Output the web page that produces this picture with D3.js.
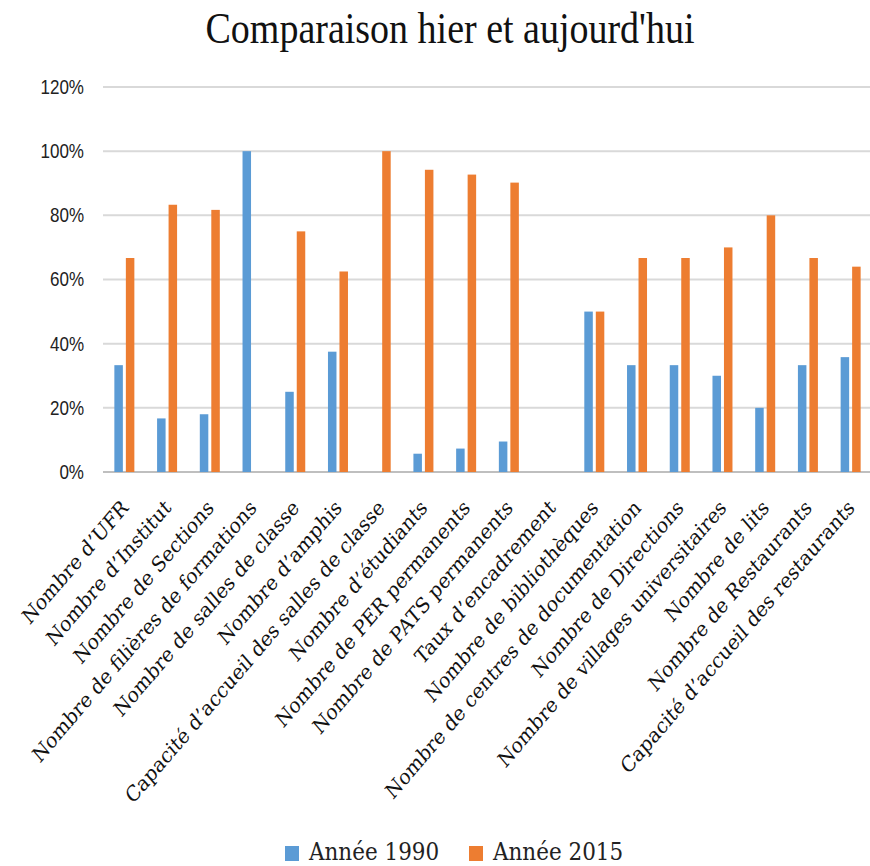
<!DOCTYPE html>
<html lang="fr">
<head>
    <meta charset="UTF-8">
    <title>Comparaison hier et aujourd'hui</title>
    <script src="https://d3js.org/d3.v7.min.js"></script>
    <style>
        body { margin: 0; background: #fff; }
        .tick-label { font-family: "Liberation Sans", Arial, sans-serif; font-size: 17px; fill: #222; }
        .cat-label { font-family: "DejaVu Serif", serif; font-size: 18.3px; fill: #111; }
        .legend-label { font-family: "DejaVu Serif", serif; font-size: 21.5px; fill: #222; }
    </style>
</head>
<body>
    <svg width="870" height="866"></svg>
    <script>
        // données (parts en %)
        var categories = [
            "Nombre d’UFR", "Nombre d’Institut", "Nombre de Sections",
            "Nombre de filières de formations", "Nombre de salles de classe",
            "Nombre d’amphis", "Capacité d’accueil des salles de classe",
            "Nombre d’étudiants", "Nombre de PER permanents", "Nombre de PATS permanents",
            "Taux d’encadrement", "Nombre de bibliothèques",
            "Nombre de centres de documentation", "Nombre de Directions",
            "Nombre de villages universitaires", "Nombre de lits",
            "Nombre de Restaurants", "Capacité d’accueil des  restaurants"
        ];
        var seriesNames = ["Année 1990", "Année 2015"];
        var values1990 = [33.3, 16.7, 18.0, 100, 25.0, 37.5, 0, 5.7, 7.3, 9.5, 0, 50, 33.3, 33.3, 30.0, 20.0, 33.3, 35.8];
        var values2015 = [66.7, 83.3, 81.7, 0, 75.0, 62.5, 100, 94.2, 92.7, 90.2, 0, 50, 66.7, 66.7, 70.0, 80.0, 66.7, 64.0];
        var yTicks = [0, 20, 40, 60, 80, 100, 120];
        var colors = ["#5B9BD5", "#ED7D31"];

        var svg = d3.select("svg");
        var stretch = 1.17; // le rendu original est étiré verticalement

        var x = d3.scaleBand().domain(categories).range([103, 872]);
        var x1 = d3.scaleBand().domain(seriesNames)
            .range([x.bandwidth() / 2 - 10, x.bandwidth() / 2 + 10])
            .paddingInner(0.26);
        var y = d3.scaleLinear().domain([0, 120]).range([472, 87]);

        // titre
        svg.append("text")
            .attr("transform", "translate(450,43) scale(1," + stretch + ")")
            .attr("text-anchor", "middle")
            .style("font-family", "'Liberation Serif', serif")
            .style("font-size", "38px")
            .style("fill", "#111")
            .text("Comparaison hier et aujourd'hui");

        // grille
        svg.append("g").selectAll("line")
            .data(yTicks)
            .enter()
            .append("line")
            .attr("x1", 103)
            .attr("x2", 870)
            .attr("y1", function(d) { return y(d); })
            .attr("y2", function(d) { return y(d); })
            .attr("stroke", function(d) { return d === 0 ? "#bfbfbf" : "#d9d9d9"; })
            .attr("stroke-width", 2);

        svg.append("g").selectAll("text")
            .data(yTicks)
            .enter()
            .append("text")
            .attr("class", "tick-label")
            .attr("text-anchor", "end")
            .attr("transform", function(d) { return "translate(84," + y(d) + ") scale(1," + stretch + ")"; })
            .attr("dy", "0.35em")
            .text(function(d) { return d + "%"; });

        // barres
        var data = categories.map(function(c, i) {
            return {cat: c, vals: [values1990[i], values2015[i]]};
        });

        var groups = svg.append("g").selectAll("g")
            .data(data)
            .enter()
            .append("g")
            .attr("transform", function(d) { return "translate(" + x(d.cat) + ",0)"; });

        groups.selectAll("rect")
            .data(function(d) { return d.vals.map(function(v, j) { return {s: seriesNames[j], v: v, j: j}; }); })
            .enter()
            .filter(function(d) { return d.v > 0; })
            .append("rect")
            .attr("x", function(d) { return x1(d.s); })
            .attr("width", x1.bandwidth())
            .attr("y", function(d) { return y(d.v); })
            .attr("height", function(d) { return y(0) - y(d.v); })
            .attr("fill", function(d) { return colors[d.j]; });

        // étiquettes des catégories
        svg.append("g").selectAll("text")
            .data(categories)
            .enter()
            .append("text")
            .attr("class", "cat-label")
            .attr("text-anchor", "end")
            .attr("transform", function(d) {
                return "translate(" + (x(d) + x.bandwidth() / 2 + 5) + ",509) scale(1," + stretch + ") rotate(-45)";
            })
            .text(function(d) { return d; });

        // légende
        var legend = svg.append("g").selectAll("g")
            .data(seriesNames)
            .enter()
            .append("g")
            .attr("transform", function(d, i) { return "translate(" + (285 + i * 184) + ",846)"; });

        legend.append("rect")
            .attr("width", 14)
            .attr("height", 15)
            .attr("fill", function(d, i) { return colors[i]; });

        legend.append("text")
            .attr("class", "legend-label")
            .attr("transform", "translate(24,14) scale(1,1.1)")
            .text(function(d) { return d; });
    </script>
</body>
</html>
